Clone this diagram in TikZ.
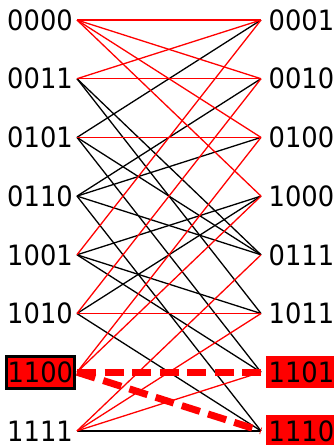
\documentclass[tikz,border=0pt]{standalone}
\usepackage{fontspec}
\setmainfont{DejaVu Sans}[FakeStretch=0.92]
\begin{document}
\begin{tikzpicture}[x=1pt,y=-1pt,
  lbl/.style={font=\fontsize{28}{30}\selectfont, inner xsep=2.5pt, inner ysep=0pt,
              text height=20.4pt, text depth=0pt},
  hot/.style={lbl, fill=red, minimum height=32pt},
  hotframe/.style={lbl, fill=red, draw=black, line width=2.7pt, inner xsep=1pt,
                   minimum height=32pt},
  edge/.style={line width=1.3pt, black},
  redge/.style={line width=1.3pt, red},
  pick/.style={line width=7pt, red, dash pattern=on 19pt off 8.5pt}]
\useasboundingbox (0,0) rectangle (334,445);

% endpoints of the two columns
\foreach \n/\i in {0000/0,0011/1,0101/2,0110/3,1001/4,1010/5,1100/6,1111/7}
  \coordinate (a\n) at (77,20+58.7*\i);
\foreach \n/\i in {0001/0,0010/1,0100/2,1000/3,0111/4,1011/5,1101/6,1110/7}
  \coordinate (b\n) at (261,20+58.7*\i);

% black edges
\foreach \u/\v in {0011/0111,0011/1011,
                   0101/0001,0101/0111,0101/1101,
                   0110/0111,0110/0100,0110/0010,0110/1110,
                   1001/1000,1001/1011,1001/1101,
                   1010/1000,1010/1110,
                   1111/1110}
  \draw[edge] (a\u) -- (b\v);

% red edges
\foreach \u/\v in {0000/0001,0000/0010,0000/0100,0000/1000,
                   0011/0001,0011/0010,
                   0101/0100,
                   1001/0001,
                   1010/1011,1010/0010,
                   1100/1000,1100/0100,
                   1111/1101,1111/1011,1111/0111}
  \draw[redge] (a\u) -- (b\v);

% highlighted moves
\draw[pick] (a1100) -- (b1101);
\draw[pick] (a1100) -- (b1110);

% labels, left column
\foreach \n/\i in {0000/0,0011/1,0101/2,0110/3,1001/4,1010/5,1111/7}
  \node[lbl, anchor=east] (t\n) at (75.5,20+58.7*\i) {\n};
\node[hotframe, anchor=east] (t1100) at (75.5,20+58.7*6) {1100};

% labels, right column
\foreach \n/\i in {0001/0,0010/1,0100/2,1000/3,0111/4,1011/5}
  \node[lbl, anchor=west] (t\n) at (266,20+58.7*\i) {\n};
\node[hot, anchor=west] (t1101) at (266,20+58.7*6) {1101};
\node[hot, anchor=west] (t1110) at (266,20+58.7*7) {1110};
\end{tikzpicture}
\end{document}
